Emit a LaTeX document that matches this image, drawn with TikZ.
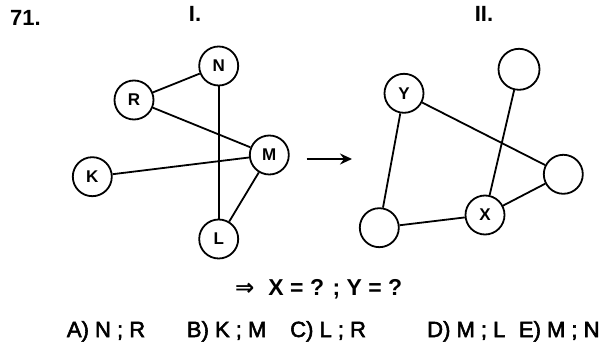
\documentclass[tikz,border=0pt]{standalone}
\usepackage{fontspec}
\setmainfont{Liberation Sans}
\newfontfamily\med[FakeBold=2.5]{Liberation Sans}
\newfontfamily\djv{DejaVu Sans}
\usetikzlibrary{arrows.meta}
\tikzset{
  vert/.style={circle,draw,line width=1.8pt,minimum size=39pt,inner sep=0pt,font=\fontsize{17}{17}\selectfont\bfseries},
  edge/.style={line width=1.8pt},
  ans/.style={anchor=base west,inner sep=0pt,font=\med\fontsize{22}{22}\selectfont},
  ttl/.style={anchor=base,inner sep=0pt,font=\fontsize{22}{22}\selectfont\bfseries}
}
\begin{document}
\begin{tikzpicture}[x=1pt,y=-1pt]
\useasboundingbox (0,0) rectangle (607,344);
% titles
\node[ttl,anchor=base west] (t71) at (10,26) {71.};
\node[ttl] (tI) at (195,22) {I.};
\node[ttl] (tII) at (484,22) {II.};
% graph I
\node[vert] (N) at (218.7,66) {N};
\node[vert] (R) at (134,100) {R};
\node[vert] (M) at (269.3,155) {M};
\node[vert] (K) at (92.3,176.7) {K};
\node[vert] (L) at (218.7,239) {L};
\draw[edge] (R) -- (N);
\draw[edge] (R) -- (M);
\draw[edge] (N) -- (L);
\draw[edge] (K) -- (M);
\draw[edge] (M) -- (L);
% arrow
\coordinate (a1) at (306.7,159);
\coordinate (a2) at (352,159);
\draw[line width=2.2pt,-{Stealth[length=12pt,width=11pt,inset=4pt]}] (a1) -- (a2);
% graph II
\node[vert] (Y) at (404,93.3) {Y};
\node[vert,minimum size=41pt] (TR) at (519,69.3) {};
\node[vert] (RT) at (563.3,174.3) {};
\node[vert] (X) at (485,215) {X};
\node[vert] (BL) at (379.3,227.7) {};
\draw[edge] (Y) -- (BL);
\draw[edge] (Y) -- (RT);
\draw[edge] (TR) -- (X);
\draw[edge] (X) -- (RT);
\draw[edge] (BL) -- (X);
% question
\node[ans,font=\fontsize{23}{23}\selectfont\bfseries] (q) at (235,295) {{\djv ⇒}\hspace{14pt}X = ? ; Y = ?};
% answers
\node[ans] (aA) at (66.7,337) {A) N ; R};
\node[ans] (aB) at (186.7,337) {B) K ; M};
\node[ans] (aC) at (290,337) {C) L ; R};
\node[ans] (aD) at (427,337) {D) M ; L};
\node[ans] (aE) at (518.7,337) {E) M ; N};
\end{tikzpicture}
\end{document}
